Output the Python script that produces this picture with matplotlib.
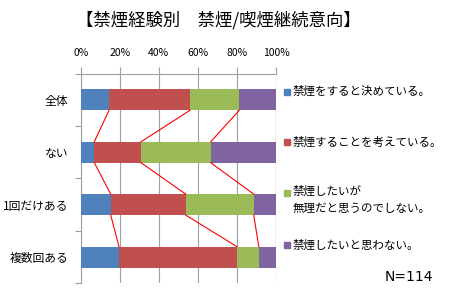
import numpy as np
import matplotlib.pyplot as plt
from matplotlib.patches import Rectangle

plt.rcParams['font.family'] = ['Noto Sans CJK JP', 'DejaVu Sans']

categories = ["全体", "ない", "1回だけある", "複数回ある"]
series_names = ["禁煙をすると決めている。",
                "禁煙することを考えている。",
                "禁煙したいが\n無理だと思うのでしない。",
                "禁煙したいと思わない。"]
decided   = [14.5, 7.0, 15.4, 19.6]
thinking  = [41.5, 23.9, 38.4, 60.4]
cant      = [25.2, 35.7, 34.8, 11.2]
dont_want = [18.8, 33.4, 11.4, 8.8]
colors = ["#4F81BD", "#C0504D", "#9BBB59", "#8064A2"]

data = np.array([decided, thinking, cant, dont_want])
y = np.arange(len(categories))
bar_h = 0.4

fig = plt.figure(figsize=(4.5, 3), dpi=100)
ax = fig.add_axes([0.1793, 0.0557, 0.4340, 0.6990])

left = np.zeros(len(categories))
for vals, col in zip(data, colors):
    ax.barh(y, vals, bar_h, left=left, color=col, zorder=3)
    left += vals

# series lines between bars (excel style)
cum = np.cumsum(data, axis=0)
for row in cum:
    for i in range(len(categories) - 1):
        ax.plot([row[i], row[i + 1]], [i + bar_h / 2, i + 1 - bar_h / 2],
                color="#FF0000", lw=0.8, zorder=4)

ax.set_xlim(0, 100)
ax.set_ylim(len(categories) - 0.5, -0.5)
ax.set_xticks(np.arange(0, 101, 20))
ax.set_xticklabels([f"{v}%" for v in range(0, 101, 20)], fontsize=7.5)
ax.xaxis.tick_top()
ax.tick_params(axis="x", length=5, color="#A0A0A0", pad=6)
ax.grid(axis="x", color="#A0A0A0", lw=0.8, zorder=0)

ax.set_yticks(np.arange(len(categories) + 1) - 0.5)
ax.set_yticklabels([])
ax.set_yticks(y, minor=True)
ax.set_yticklabels(categories, minor=True, fontsize=8.5)
ax.tick_params(axis="y", which="major", length=4, color="#A0A0A0")
ax.tick_params(axis="y", which="minor", length=0, pad=9)

for s in ["right", "bottom"]:
    ax.spines[s].set_visible(False)
for s in ["left", "top"]:
    ax.spines[s].set_color("#A0A0A0")

fig.text(0.485, 0.933, "【禁煙経験別　禁煙/喫煙継続意向】", fontsize=12.5, ha="center", va="center")

# legend
leg_y = [0.695, 0.527, 0.357, 0.183]
for name, col, ly in zip(series_names, colors, leg_y):
    fig.patches.append(Rectangle((0.632, ly - 0.011), 0.013, 0.02, color=col,
                                 transform=fig.transFigure, figure=fig))
    if "\n" in name:
        fig.text(0.651, ly + 0.026, name, fontsize=8.3, va="top", linespacing=1.35)
    else:
        fig.text(0.651, ly, name, fontsize=8.3, va="center")

fig.text(0.962, 0.078, "N=114", fontsize=10, ha="right", va="center", family="DejaVu Sans")

fig.savefig("out.png", dpi=100)
